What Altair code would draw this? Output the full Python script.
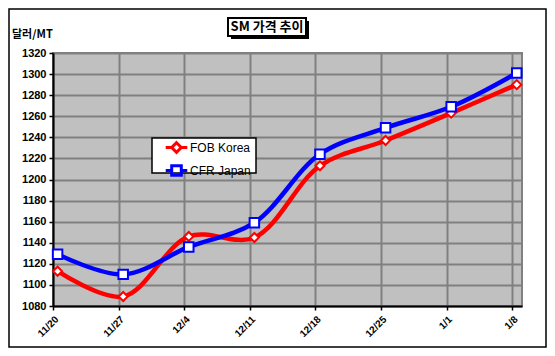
import altair as alt
import pandas as pd

# ---- data ----
dates = ["11/20", "11/27", "12/4", "12/11", "12/18", "12/25", "1/1", "1/8"]
fob_korea = [1113, 1089, 1146, 1145, 1213, 1237, 1263, 1290]
cfr_japan = [1129, 1110, 1136, 1159, 1224, 1249, 1269, 1301]
series_names = ["FOB Korea", "CFR Japan"]
series_colors = ["#FF0000", "#0000FF"]
y_ticks = list(range(1080, 1321, 20))
chart_title = "SM 가격 추이"
y_unit = "달러/MT"

rows = []
for i, d in enumerate(dates):
    rows.append({"i": i, "date": d, "series": series_names[0], "value": fob_korea[i]})
    rows.append({"i": i, "date": d, "series": series_names[1], "value": cfr_japan[i]})
df = pd.DataFrame(rows)

W, H = 469, 253
PL, PT, PR, PB = 45, 45, 25, 42

label_js = "[" + ",".join("'%s'" % d for d in dates) + "][datum.value]"

x_enc = alt.X("xp:Q",
              scale=alt.Scale(domain=[0, 7.15], nice=False, zero=False),
              axis=alt.Axis(values=list(range(len(dates))), labelExpr=label_js,
                            labelAngle=-45, title=None))
y_enc = alt.Y("value:Q",
              scale=alt.Scale(domain=[1080, 1320], nice=False, zero=False),
              axis=alt.Axis(values=y_ticks, format="d", title=None))

base = alt.Chart(df).transform_calculate(xp="datum.i + 0.07")

# legend symbols: line segment + marker (units of half the symbol cell)
sq_path = "M-1.8,0H-0.8M0.8,0H1.8M-0.8,-0.8H0.8V0.8H-0.8Z"
di_path = "M-1.8,0H-0.8M0.8,0H1.8M0,-0.8L0.8,0L0,0.8L-0.8,0Z"


def series_line(k):
    return base.transform_filter(alt.datum.series == series_names[k]).mark_line(
        interpolate="catmull-rom", strokeWidth=4.5, stroke=series_colors[k]
    ).encode(x=x_enc, y=y_enc, order=alt.Order("i:Q"))


line_fob = series_line(0)
line_cfr = series_line(1)

leg = alt.Legend(title=None, orient="none", legendX=116, legendY=87, padding=0,
                 labelFont="Liberation Sans", labelFontSize=12,
                 labelColor="black", labelOffset=6, rowPadding=0,
                 symbolSize=144, symbolStrokeWidth=3, symbolFillColor="white",
                 symbolOpacity=1)

legend_layer = base.mark_point(filled=False, strokeWidth=3, size=144, opacity=0).encode(
    x=x_enc, y=y_enc,
    stroke=alt.Stroke("series:N", scale=alt.Scale(domain=series_names, range=series_colors),
                      sort=series_names, legend=leg),
    shape=alt.Shape("series:N", scale=alt.Scale(domain=series_names, range=[di_path, sq_path]),
                    sort=series_names, legend=leg),
)

pts_fob = base.transform_filter(alt.datum.series == series_names[0]).mark_point(
    shape="diamond", size=81, filled=True, fill="white", stroke=series_colors[0],
    strokeWidth=2, opacity=1).encode(x=x_enc, y=y_enc)
pts_cfr = base.transform_filter(alt.datum.series == series_names[1]).mark_point(
    shape="square", size=90, filled=True, fill="white", stroke=series_colors[1],
    strokeWidth=2, opacity=1).encode(x=x_enc, y=y_enc)

one = alt.Data(values=[{}])

legend_box = alt.Chart(one).mark_rect(fill="white", stroke="black", strokeWidth=1.5, clip=False).encode(
    x=alt.value(99), x2=alt.value(203), y=alt.value(85), y2=alt.value(120))
frame = alt.Chart(one).mark_rect(fillOpacity=0, stroke="black", strokeWidth=1.5, clip=False).encode(
    x=alt.value(-44), x2=alt.value(W + PR - 1), y=alt.value(-44), y2=alt.value(H + PB - 1))
title_shadow = alt.Chart(one).mark_rect(fill="black", clip=False).encode(
    x=alt.value(178), x2=alt.value(256), y=alt.value(-32), y2=alt.value(-14))
title_box = alt.Chart(one).mark_rect(fill="white", stroke="black", strokeWidth=2, clip=False).encode(
    x=alt.value(175), x2=alt.value(253), y=alt.value(-35), y2=alt.value(-17))
title_text = alt.Chart(one).mark_text(
    text=chart_title, font="Noto Sans CJK KR", fontSize=13, fontWeight="bold",
    align="center", baseline="middle", color="black").encode(
    x=alt.value(214), y=alt.value(-26))
unit_text = alt.Chart(one).mark_text(
    text=y_unit, font="Noto Sans CJK KR", fontSize=11, fontWeight="bold",
    align="left", baseline="middle", color="black").encode(
    x=alt.value(-41), y=alt.value(-18))

chart = alt.layer(
    line_fob, line_cfr, pts_fob, pts_cfr, legend_box, legend_layer, frame,
    title_shadow, title_box, title_text, unit_text
).properties(
    width=W, height=H,
    autosize=alt.AutoSizeParams(type="none"),
    padding={"left": PL, "top": PT, "right": PR, "bottom": PB},
    background="white",
).configure_view(
    fill="#C0C0C0", stroke="#808080", strokeWidth=2
).configure_axis(
    grid=True, gridColor="#808080", gridWidth=2, gridOpacity=1,
    domainColor="black", domainWidth=2,
    tickColor="black", tickSize=4, tickWidth=1.5,
    labelFont="Liberation Sans", labelFontSize=11, labelFontWeight="bold",
    labelColor="black",
).configure_axisY(labelPadding=3).configure_axisX(labelPadding=4, labelFontSize=10)

chart.save("out.html", embed_options={"renderer": "svg", "actions": False})
